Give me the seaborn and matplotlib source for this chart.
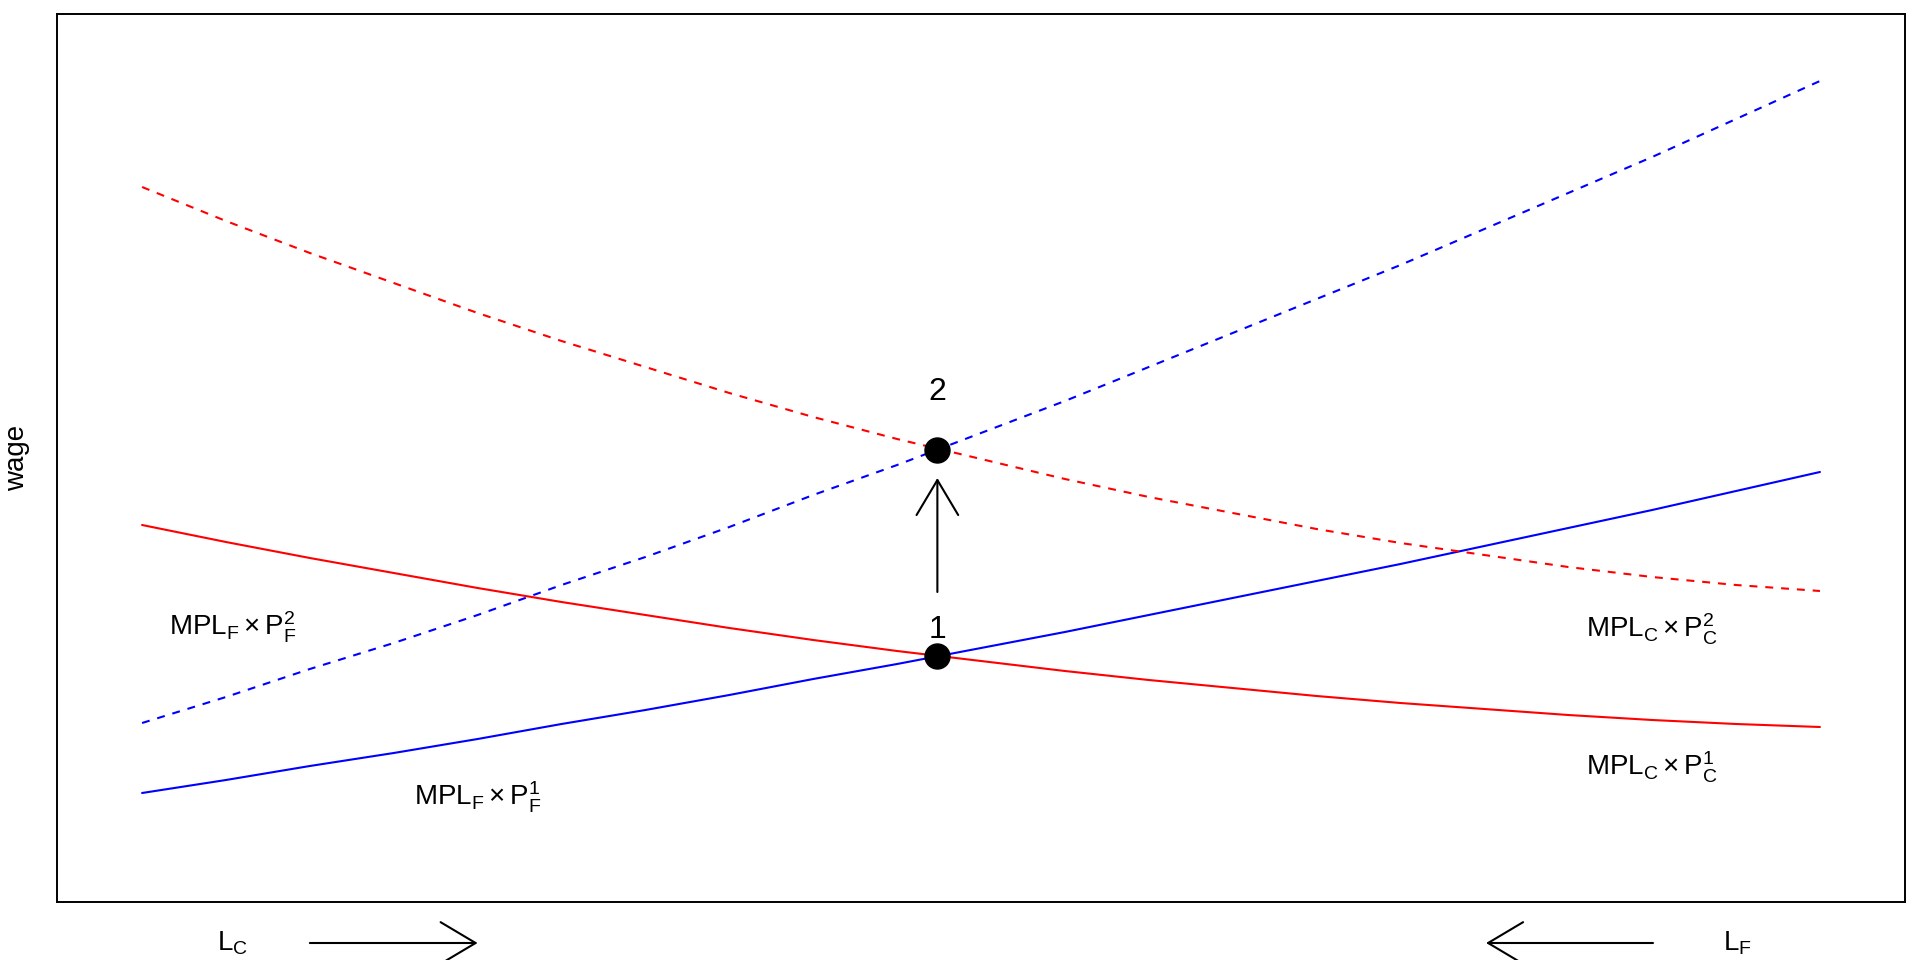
import numpy as np
import pandas as pd
import matplotlib
matplotlib.use("Agg")
import matplotlib.pyplot as plt
import seaborn as sns

# ---- data ----
labor_c = [0, 5, 10, 15, 20, 25, 30, 35, 40, 45, 50, 55, 60, 65, 70, 75, 80, 85, 90, 95, 100]
mplf_p1 = [0.70, 0.83, 0.97, 1.10, 1.24, 1.39, 1.53, 1.68, 1.84, 1.99, 2.15,
           2.31, 2.48, 2.65, 2.82, 2.99, 3.17, 3.35, 3.53, 3.72, 3.91]
mplc_p1 = [3.38, 3.21, 3.05, 2.90, 2.75, 2.61, 2.48, 2.35, 2.23, 2.12, 2.02,
           1.92, 1.83, 1.75, 1.67, 1.60, 1.54, 1.48, 1.43, 1.39, 1.36]
mplf_p2 = [1.40, 1.66, 1.94, 2.20, 2.48, 2.78, 3.06, 3.36, 3.68, 3.98, 4.30,
           4.62, 4.96, 5.30, 5.64, 5.98, 6.34, 6.70, 7.06, 7.44, 7.82]
mplc_p2 = [6.76, 6.42, 6.10, 5.80, 5.50, 5.22, 4.96, 4.70, 4.46, 4.24, 4.04,
           3.84, 3.66, 3.50, 3.34, 3.20, 3.08, 2.96, 2.86, 2.78, 2.72]
eq_x = [47.4, 47.4]
eq_y = [2.07, 4.13]
eq_labels = ["1", "2"]

sns.set_theme(style="white")
plt.rcParams["font.family"] = ["Liberation Sans", "DejaVu Sans"]
plt.rcParams["text.color"] = "black"
plt.rcParams["axes.labelcolor"] = "black"
plt.rcParams["mathtext.fontset"] = "custom"
plt.rcParams["mathtext.rm"] = "Liberation Sans"
plt.rcParams["mathtext.it"] = "Liberation Sans:italic"
plt.rcParams["mathtext.bf"] = "Liberation Sans:bold"

fig = plt.figure(figsize=(19.2, 9.6), dpi=100)
ax = fig.add_axes([57 / 1920, 1 - 902 / 960, (1905 - 57) / 1920, (902 - 14) / 960])

df = pd.DataFrame({"L": labor_c, "f1": mplf_p1, "c1": mplc_p1, "f2": mplf_p2, "c2": mplc_p2})
lw = 1.5
sns.lineplot(data=df, x="L", y="f1", color="#0000FF", lw=lw, ax=ax)
sns.lineplot(data=df, x="L", y="c1", color="#FF0000", lw=lw, ax=ax)
sns.lineplot(data=df, x="L", y="f2", color="#0000FF", lw=lw, ax=ax, linestyle=(0, (3.8, 3.8)))
sns.lineplot(data=df, x="L", y="c2", color="#FF0000", lw=lw, ax=ax, linestyle=(0, (3.8, 3.8)))

ax.plot(eq_x, eq_y, "o", color="black", markersize=18, zorder=5)
ax.text(eq_x[0], 2.33, eq_labels[0], ha="center", va="center", fontsize=23)
ax.text(eq_x[1], 4.71, eq_labels[1], ha="center", va="center", fontsize=23)

astyle = "->,head_length=2.1,head_width=1.25"
# vertical arrow
ax.annotate("", xy=(47.4, 3.85), xytext=(47.4, 2.71),
            arrowprops=dict(arrowstyle=astyle, lw=1.5, color="black", shrinkA=0, shrinkB=0))

fs = 20
ax.text(5.4, 2.36, r"$\mathrm{MPL_F\times P_F^2}$", ha="center", va="center", fontsize=fs)
ax.text(20.0, 0.66, r"$\mathrm{MPL_F\times P_F^1}$", ha="center", va="center", fontsize=fs)
ax.text(90.0, 2.34, r"$\mathrm{MPL_C\times P_C^2}$", ha="center", va="center", fontsize=fs)
ax.text(90.0, 0.96, r"$\mathrm{MPL_C\times P_C^1}$", ha="center", va="center", fontsize=fs)

# bottom arrows / labels (outside plotting region)
ax.annotate("", xy=(20.0, -0.80), xytext=(10.0, -0.80), annotation_clip=False,
            arrowprops=dict(arrowstyle=astyle, lw=1.5, color="black", shrinkA=0, shrinkB=0))
ax.annotate("", xy=(80.1, -0.80), xytext=(90.05, -0.80), annotation_clip=False,
            arrowprops=dict(arrowstyle=astyle, lw=1.5, color="black", shrinkA=0, shrinkB=0))
ax.text(5.4, -0.80, r"$\mathrm{L_C}$", ha="center", va="center", fontsize=fs, clip_on=False)
ax.text(95.1, -0.80, r"$\mathrm{L_F}$", ha="center", va="center", fontsize=fs, clip_on=False)

ax.set_xlim(-5.07, 105.07)
ax.set_ylim(-0.39, 8.49)
ax.set_xticks([])
ax.set_yticks([])
ax.set_xlabel("")
ax.set_ylabel("wage", fontsize=20, color="black")
ax.yaxis.set_label_coords(-(57 - 30) / 1848, 0.5)
for s in ax.spines.values():
    s.set_visible(True)
    s.set_color("black")
    s.set_linewidth(1.4)

fig.savefig("out.png", dpi=100, facecolor="white")
